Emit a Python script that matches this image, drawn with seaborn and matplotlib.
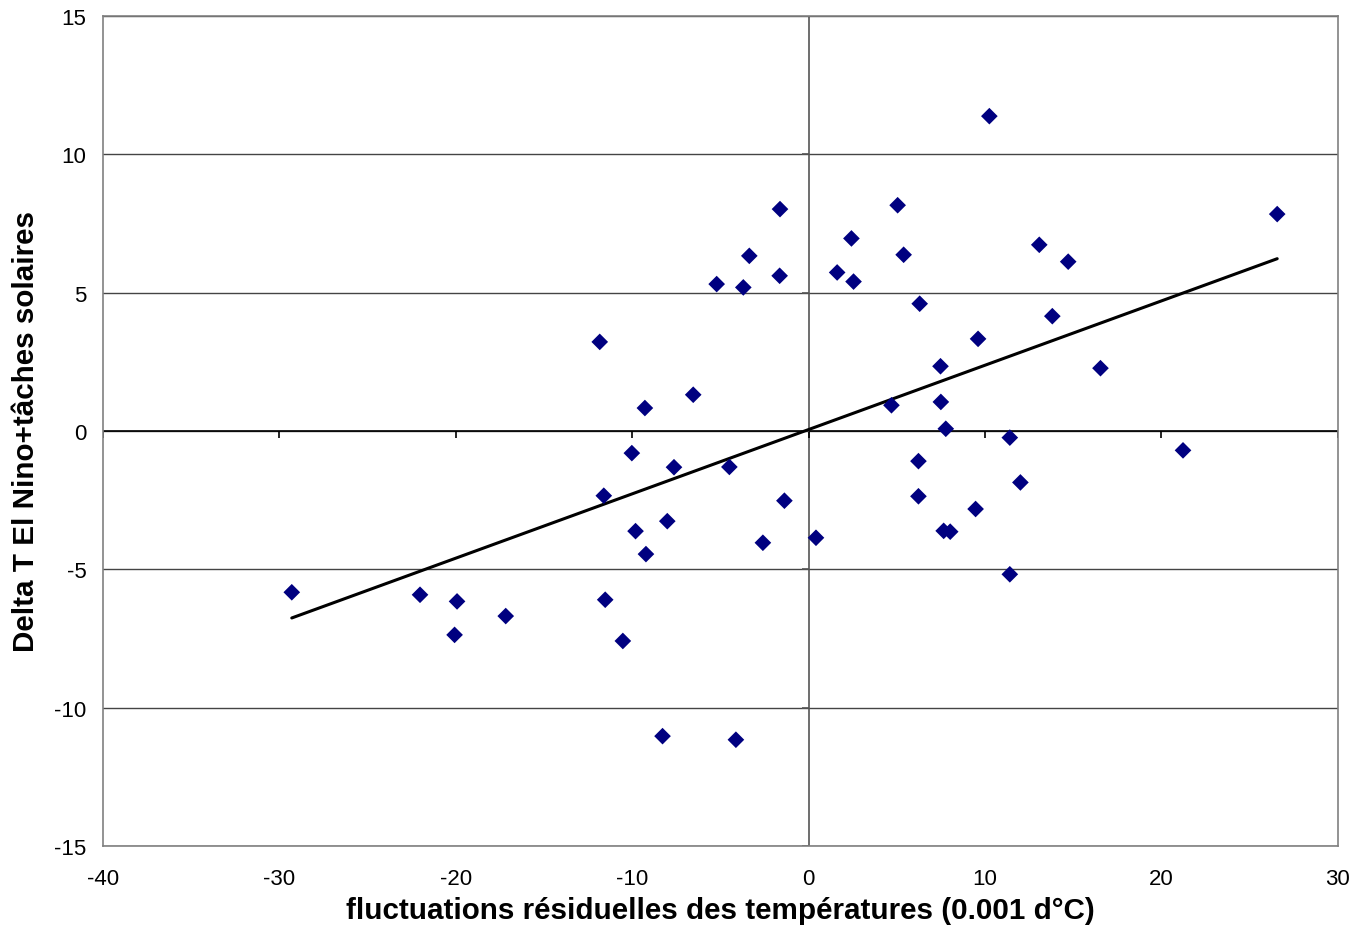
import numpy as np
import pandas as pd
import matplotlib
matplotlib.use("Agg")
import matplotlib.pyplot as plt
import seaborn as sns

# residual temperature fluctuations (0.001 d°C)
x_vals = [-29.30, -22.03, -19.93, -20.07, -17.17, -11.84, -11.61, -11.53, -10.53, -10.02,
          -9.81, -9.28, -9.22, -8.28, -8.01, -7.63, -6.54, -5.21, -4.49, -4.12,
          -3.70, -3.36, -2.59, -1.64, -1.62, -1.37, 0.42, 1.62, 2.43, 2.55,
          4.70, 5.05, 5.39, 6.30, 6.23, 6.23, 7.48, 7.50, 7.66, 8.03,
          7.78, 9.47, 9.61, 10.25, 11.41, 11.41, 12.01, 13.08, 13.82, 14.72,
          16.55, 21.23, 26.57]
# Delta T El Nino + sunspots
y_vals = [-5.83, -5.92, -6.16, -7.37, -6.69, 3.22, -2.34, -6.10, -7.59, -0.80,
          -3.62, 0.83, -4.45, -11.03, -3.26, -1.31, 1.31, 5.31, -1.30, -11.16,
          5.19, 6.33, -4.04, 5.61, 8.02, -2.52, -3.86, 5.73, 6.96, 5.40,
          0.93, 8.16, 6.37, 4.60, -1.09, -2.36, 2.34, 1.05, -3.61, -3.64,
          0.08, -2.82, 3.33, 11.38, -0.24, -5.18, -1.86, 6.73, 4.15, 6.12,
          2.27, -0.70, 7.84]

x_ticks = [-40, -30, -20, -10, 0, 10, 20, 30]
y_ticks = [-15, -10, -5, 0, 5, 10, 15]

df = pd.DataFrame({"x": x_vals, "y": y_vals})

sns.set_style("white")
plt.rcParams["font.family"] = ["Liberation Sans", "DejaVu Sans"]
plt.rcParams["axes.unicode_minus"] = False
plt.rcParams["text.color"] = "black"
plt.rcParams["axes.labelcolor"] = "black"
plt.rcParams["xtick.color"] = "black"
plt.rcParams["ytick.color"] = "black"

fig = plt.figure(figsize=(13.65, 9.29), dpi=100)
ax = fig.add_axes([0.0755, 0.0883, 0.9045, 0.8934])

# horizontal gridlines
for yv in y_ticks:
    ax.axhline(yv, color="#444444", lw=1, zorder=0)

# axes crossing at zero
ax.axhline(0, color="black", lw=1.2, zorder=1)
ax.axvline(0, color="#555555", lw=1.2, zorder=1)
ax.vlines(x_ticks, -0.25, 0, color="black", lw=1.2, zorder=1)
ax.hlines(y_ticks, -0.4, 0, color="#555555", lw=1.2, zorder=1)

# trendline
sns.regplot(data=df, x="x", y="y", scatter=False, ci=None, ax=ax,
            line_kws={"color": "black", "lw": 2.2, "zorder": 2})

sns.scatterplot(data=df, x="x", y="y", marker="D", s=72, color="#000080",
                edgecolor="none", ax=ax, zorder=3)

ax.set_xlim(-40, 30)
ax.set_ylim(-15, 15)
ax.set_xticks(x_ticks)
ax.set_yticks(y_ticks)
ax.tick_params(axis="x", length=0, pad=16, labelsize=16)
ax.tick_params(axis="y", length=0, pad=12, labelsize=16)

for sp in ax.spines.values():
    sp.set_color("#808080")
    sp.set_linewidth(1.2)

ax.set_xlabel("fluctuations résiduelles des températures (0.001 d°C)",
              fontsize=21.3, fontweight="bold", labelpad=5)
ax.set_ylabel("Delta T El Nino+tâches solaires",
              fontsize=21.3, fontweight="bold", labelpad=10)

fig.savefig("out.png", dpi=100)
